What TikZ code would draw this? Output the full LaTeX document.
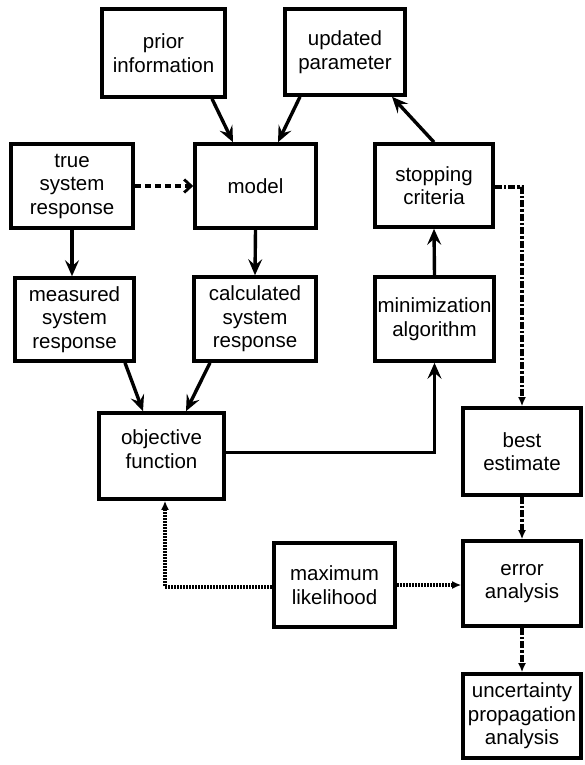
\documentclass[tikz,border=0pt]{standalone}
\usepackage{fontspec}
\setmainfont{Liberation Sans}
\usetikzlibrary{arrows.meta,calc}
\tikzset{
  box/.style={draw, line width=3.6pt, inner sep=0pt, align=center, font=\fontsize{20.5}{23.5}\selectfont},
  flow/.style={line width=3.4pt, -{Stealth[length=16pt,width=14pt,inset=6pt]}},
  dashflow/.style={line width=3.6pt, dash pattern=on 6pt off 4pt, -{Straight Barb[length=7pt,width=13pt,line width=2.8pt]}},
  dashdot/.style={line width=3.6pt, dash pattern=on 7pt off 2pt on 2.5pt off 2pt, -{Latex[length=9pt,width=8pt]}},
  dotflow/.style={line width=3.6pt, dash pattern=on 2pt off 1pt, -{Latex[length=9pt,width=8pt]}},
}
\begin{document}
\begin{tikzpicture}[x=1pt,y=-1pt]
\useasboundingbox (0,0) rectangle (584,765);
\fill[white] (0,0) rectangle (584,765);
\node[box, minimum width=123pt, minimum height=88pt] (prior) at (163.5,53) {prior\\information};
\node[box, minimum width=120pt, minimum height=86pt] (upd) at (345,52) {updated\\parameter};
\node[box, minimum width=122pt, minimum height=84pt] (true) at (72,186) {true\\system\\response};
\node[box, minimum width=121pt, minimum height=84pt] (model) at (255.5,186) {model};
\node[box, minimum width=118pt, minimum height=83pt] (stop) at (434,185.5) {stopping\\criteria};
\node[box, minimum width=119pt, minimum height=83pt] (meas) at (74.5,319.5) {measured\\system\\response};
\node[box, minimum width=122pt, minimum height=84pt] (calc) at (255,319) {calculated\\system\\response};
\node[box, minimum width=119pt, minimum height=84pt] (mini) at (434.5,319) {minimization\\algorithm};
\node[box, minimum width=125pt, minimum height=86pt] (obj) at (161.5,456) {};
\node[font=\fontsize{20.5}{23.5}\selectfont, align=center, inner sep=0pt] (objtext) at ([yshift=7pt]obj.center) {objective\\function};
\node[box, minimum width=118pt, minimum height=87pt] (best) at (522,451.5) {best\\estimate};
\node[box, minimum width=121pt, minimum height=84pt] (ml) at (334.5,585) {maximum\\likelihood};
\node[box, minimum width=118pt, minimum height=85pt] (err) at (522,583.5) {error\\analysis};
\node[box, minimum width=118pt, minimum height=84pt] (unc) at (522,716) {uncertainty\\propagation\\analysis};

% solid flows
\draw[flow] ([xshift=48.5pt]prior.south) -- ([xshift=-22.5pt]model.north);
\draw[flow] ([xshift=-45pt]upd.south) -- ([xshift=22.5pt]model.north);
\draw[flow] (stop.north) -- ([xshift=47pt]upd.south);
\draw[flow] (true.south) -- (true.south |- meas.north);
\draw[flow] (model.south) -- (calc.north);
\draw[flow] (mini.north) -- (stop.south);
\draw[flow] ([xshift=50.5pt]meas.south) -- ([xshift=-18.5pt]obj.north);
\draw[flow] ([xshift=-45pt]calc.south) -- ([xshift=24.5pt]obj.north);
\draw[flow, line width=3pt] ([yshift=4pt]obj.east) -| (mini.south);

% dashed
\draw[dashflow] (true.east) -- (model.west);
% dash-dot
\draw[dashdot] ([yshift=-1.5pt]stop.east) -| (best.north);
\draw[dashdot] (best.south) -- (err.north);
\draw[dashdot] (err.south) -- (unc.north);
% dotted
\draw[dotflow] ([yshift=-2pt]ml.west) -| ([xshift=3.5pt]obj.south);
\draw[dotflow] (ml.east) -- ([yshift=-1.5pt]err.west);
\end{tikzpicture}
\end{document}
